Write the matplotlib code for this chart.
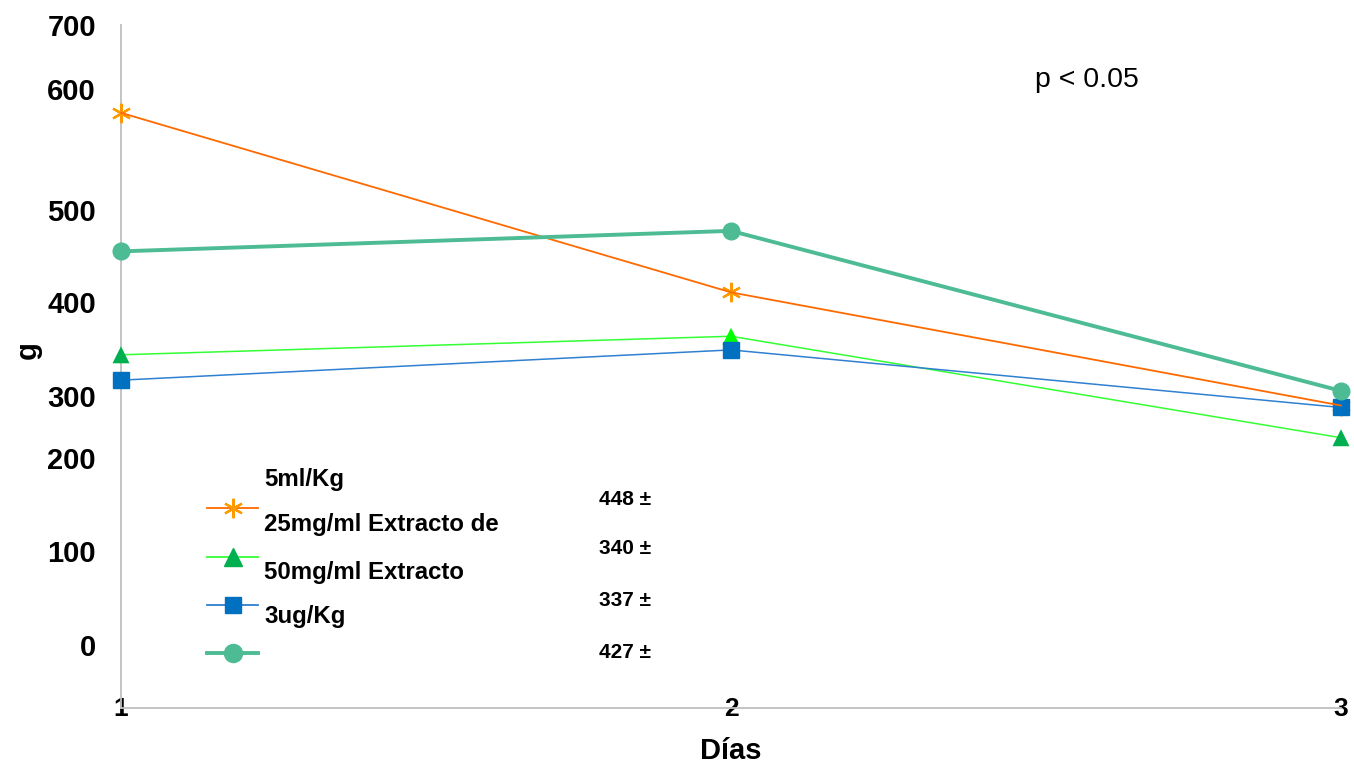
import matplotlib.pyplot as plt
from matplotlib.lines import Line2D

plt.rcParams['font.family'] = ['Liberation Sans', 'DejaVu Sans']

# data (g)
dias = [1, 2, 3]
serie_5ml = [610, 426, 310]
serie_25mg = [362, 381, 277]
serie_50mg = [336, 367, 308]
serie_3ug = [468, 489, 325]

legend_labels = ['5ml/Kg', '25mg/ml Extracto de', '50mg/ml Extracto', '3ug/Kg']
legend_values = ['448 \u00b1', '340 \u00b1', '337 \u00b1', '427 \u00b1']

# tick labels sit where the original put them (not evenly spaced)
ytick_pos = [700, 634, 510, 416, 320, 256, 161, 65]
ytick_lab = ['700', '600', '500', '400', '300', '200', '100', '0']

W, H = 1354, 770
fig = plt.figure(figsize=(W / 100, H / 100), dpi=100)
ax = fig.add_axes([121 / W, (770 - 708) / H, (1341 - 121) / W, (708 - 25) / H])

c_or = '#FF6A00'
c_or_mk = '#FF9900'
c_gr_line = '#33FF33'
c_gr = '#00B050'
c_bl_line = '#2F80D0'
c_bl = '#0070C0'
c_te = '#4DBB94'

ax.plot(dias, serie_25mg, color=c_gr_line, lw=1.1, zorder=3, clip_on=False)
ax.scatter(dias, serie_25mg, marker='^', s=150, color=[c_gr, '#00FF00', c_gr],
           zorder=4, clip_on=False, linewidths=0)
# orange markers sit under the blue squares, the orange line above
ax.plot(dias, serie_5ml, ls='none', marker=(6, 2, 0), ms=14,
        mec=c_or_mk, mew=1.6, zorder=4.5, clip_on=False)
ax.plot(dias, serie_50mg, color=c_bl_line, lw=1.1, marker='s', ms=11,
        mfc=c_bl, mec=c_bl, zorder=5, clip_on=False)
ax.plot(dias, serie_5ml, color=c_or, lw=1.3, zorder=6, clip_on=False)
ax.plot(dias, serie_3ug, color=c_te, lw=2.8, marker='o', ms=12,
        mfc=c_te, mec=c_te, zorder=7, clip_on=False)

ax.set_xlim(1, 3)
ax.set_ylim(0, 700)
ax.set_xticks(dias)
ax.set_xticklabels(['1', '2', '3'], fontsize=19, fontweight='bold')
ax.set_yticks(ytick_pos)
ax.set_yticklabels(ytick_lab, fontsize=21, fontweight='bold')
ax.tick_params(axis='x', length=0, pad=-8)
ax.tick_params(axis='y', length=0, pad=18)

for s in ['top', 'right']:
    ax.spines[s].set_visible(False)
for s in ['left', 'bottom']:
    ax.spines[s].set_color('#BFBFBF')
    ax.spines[s].set_linewidth(1.3)

ax.set_xlabel('Días', fontsize=21, fontweight='bold')
ax.xaxis.set_label_coords(0.5, -0.043)
ax.set_ylabel('g', fontsize=21, fontweight='bold')
ax.yaxis.set_label_coords(-0.065, 0.524)

ax.text(1035 / W, 1 - 80 / H, 'p < 0.05', transform=fig.transFigure,
        fontsize=20.5, va='center', ha='left')

# legend handles only, the labels are written separately
handles = [
    Line2D([], [], color=c_or, lw=1.3, marker=(6, 2, 0), ms=14, mec=c_or_mk, mew=1.6),
    Line2D([], [], color=c_gr_line, lw=1.3, marker='^', ms=13, mfc=c_gr, mec=c_gr),
    Line2D([], [], color=c_bl_line, lw=1.3, marker='s', ms=12, mfc=c_bl, mec=c_bl),
    Line2D([], [], color=c_te, lw=2.8, marker='o', ms=13, mfc=c_te, mec=c_te),
]
ax.legend(handles, ['', '', '', ''], loc='upper left',
          bbox_to_anchor=(207 / W, 1 - 500 / H), bbox_transform=fig.transFigure,
          frameon=False, borderpad=0, borderaxespad=0, handlelength=2.3,
          handletextpad=0, labelspacing=1.23, fontsize=16)

for lab, yp in zip(legend_labels, [479, 525, 572, 617]):
    fig.text(264 / W, 1 - yp / H, lab, fontsize=17.3, fontweight='bold', va='center')
for lab, yp in zip(legend_values, [499, 548, 600, 652]):
    fig.text(599 / W, 1 - yp / H, lab, fontsize=15, fontweight='bold', va='center')

fig.savefig('out.png', dpi=100)
